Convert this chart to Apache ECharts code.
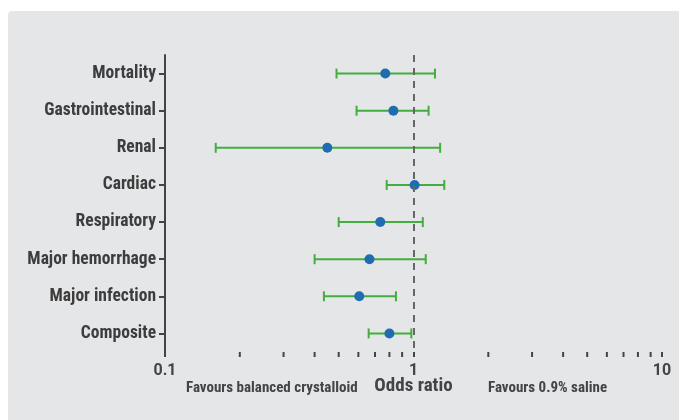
<!DOCTYPE html>
<html><head><meta charset="utf-8">
<script src="https://cdn.jsdelivr.net/npm/echarts@6/dist/echarts.min.js"></script>
<style>html,body{margin:0;padding:0;background:#fff}#c{width:679px;height:420px}</style>
</head><body><div id="c"></div>
<script>
var categories = ['Mortality','Gastrointestinal','Renal','Cardiac','Respiratory','Major hemorrhage','Major infection','Composite'];
var oddsRatio = [0.77, 0.83, 0.45, 1.01, 0.735, 0.665, 0.605, 0.80];
var lowerCI  = [0.49, 0.59, 0.16, 0.78, 0.50, 0.40, 0.436, 0.66];
var upperCI  = [1.22, 1.15, 1.28, 1.33, 1.09, 1.12, 0.85, 0.98];
var minorTickValues = [0.2,0.3,0.4,0.5,0.6,0.7,0.8,0.9,2,3,4,5,6,7,8,9];
var FONT = '"Roboto Condensed","Liberation Sans Narrow","Roboto",sans-serif';

var chart = echarts.init(document.getElementById('c'), null, {renderer:'canvas'});
var errData = categories.map(function(c,i){return [lowerCI[i], upperCI[i], i];});
var ptData = categories.map(function(c,i){return [oddsRatio[i], i];});

chart.setOption({
  animation:false,
  graphic:[
    {type:'rect', z:-10, shape:{x:8,y:11,width:700,height:450,r:4}, style:{fill:'#e5e6e8'}},
    {type:'text', left:186, top:381, style:{text:'Favours balanced crystalloid', font:'bold 15px '+FONT, fill:'#444'}},
    {type:'text', left:488, top:381, style:{text:'Favours 0.9% saline', font:'bold 15px '+FONT, fill:'#444'}}
  ],
  grid:{left:165,right:17,top:55,bottom:68},
  xAxis:{
    type:'log', logBase:10, min:0.1, max:10,
    axisLine:{lineStyle:{color:'#444',width:2}},
    axisTick:{show:true,length:5,lineStyle:{color:'#444',width:2}},
    axisLabel:{color:'#444',fontWeight:'bold',fontSize:16,fontFamily:'Roboto,sans-serif',margin:11,
      formatter:function(v){return String(v);}},
    splitLine:{show:false},
    name:'Odds ratio', nameLocation:'middle', nameGap:25, nameMoveOverlap:false,
    nameTextStyle:{color:'#444',fontWeight:'bold',fontSize:19,fontFamily:FONT,verticalAlign:'top'}
  },
  yAxis:{
    type:'category', data:categories, inverse:true,
    axisLine:{lineStyle:{color:'#444',width:2}},
    axisTick:{show:true,alignWithLabel:true,length:6,lineStyle:{color:'#444',width:2}},
    axisLabel:{color:'#3d3d3d',fontWeight:'bold',fontSize:17.5,fontFamily:FONT,margin:9},
    splitLine:{show:false}
  },
  series:[
    {
      type:'custom', z:2,
      renderItem:function(params, api){
        var lo = api.coord([api.value(0), api.value(2)]);
        var hi = api.coord([api.value(1), api.value(2)]);
        var h = 5;
        var st = {stroke:'#43ad3e', lineWidth:2};
        return {type:'group', children:[
          {type:'line', shape:{x1:lo[0],y1:lo[1],x2:hi[0],y2:hi[1]}, style:st},
          {type:'line', shape:{x1:lo[0],y1:lo[1]-h,x2:lo[0],y2:lo[1]+h}, style:st},
          {type:'line', shape:{x1:hi[0],y1:hi[1]-h,x2:hi[0],y2:hi[1]+h}, style:st}
        ]};
      },
      encode:{x:[0,1], y:2},
      data:errData
    },
    {
      type:'custom', z:1, clip:false,
      renderItem:function(params, api){
        var p = api.coord([api.value(0), 0]);
        var yb = params.coordSys.y + params.coordSys.height;
        return {type:'line', shape:{x1:p[0],y1:yb,x2:p[0],y2:yb+5}, style:{stroke:'#444',lineWidth:2}};
      },
      encode:{x:0},
      data:minorTickValues.map(function(v){return [v];}),
      silent:true
    },
    {
      type:'scatter', z:3, symbol:'circle', symbolSize:10,
      itemStyle:{color:'#1f6cb0', opacity:1},
      data:ptData,
      markLine:{
        silent:true, symbol:['none','none'], label:{show:false},
        lineStyle:{color:'#666',type:[7,6],width:2},
        data:[{xAxis:1}]
      }
    }
  ]
});
</script></body></html>
